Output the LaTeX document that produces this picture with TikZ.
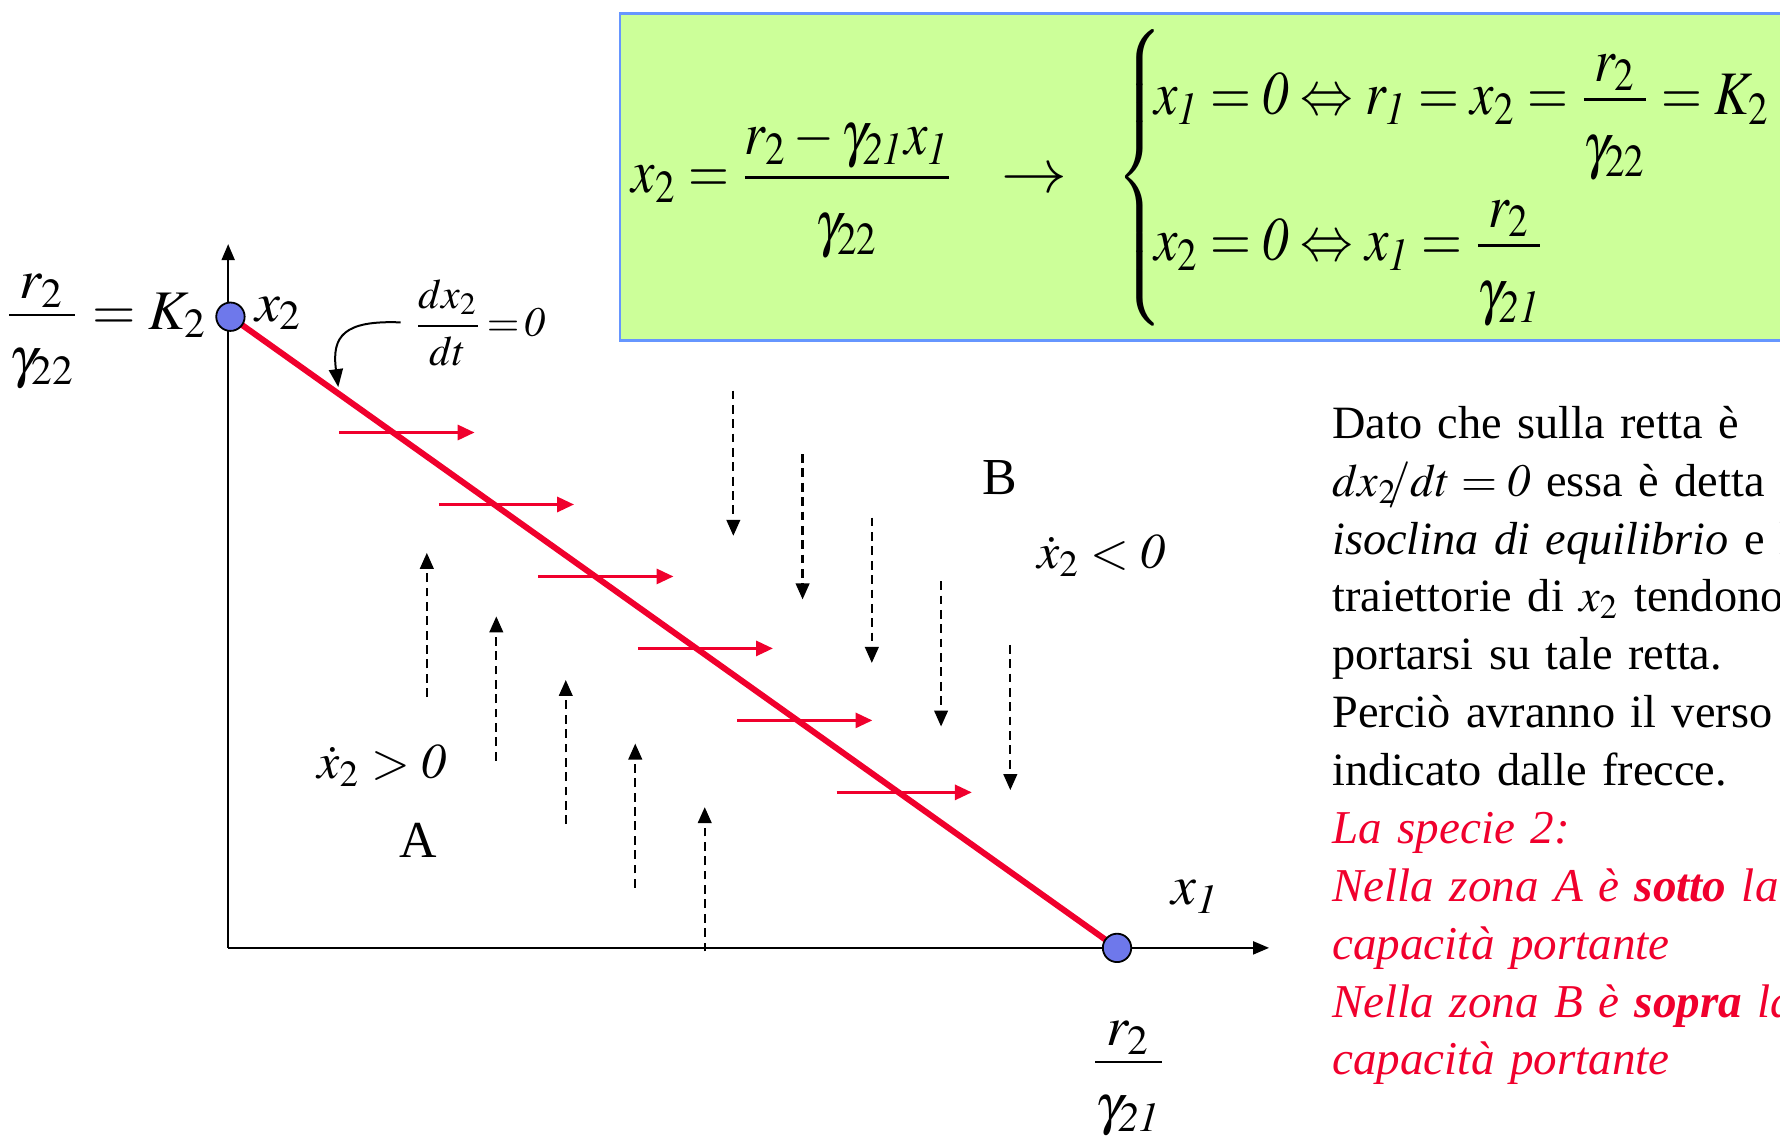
\documentclass[tikz,border=0pt]{standalone}
\usepackage{amsmath}
\usepackage{graphicx}
\usepackage{mathptmx}
\usepackage{fontspec}
\setmainfont{Liberation Serif}
\usetikzlibrary{arrows.meta}
\definecolor{isored}{RGB}{240,0,45}
\definecolor{boxgreen}{RGB}{204,255,153}
\definecolor{boxblue}{RGB}{102,150,255}
\definecolor{eqblue}{RGB}{110,120,235}
\newcommand{\isofrac}[2]{\frac{\raisebox{-0.2em}{$#1$}}{\rule{0pt}{0.95em}#2}}
\begin{document}
\begin{tikzpicture}[x=0.01cm, y=-0.01cm,
  axis/.style={line width=0.6pt, -{Triangle[length=4pt,width=3.2pt]}},
  isoline/.style={isored, line width=1.5pt},
  flowarrow/.style={isored, line width=0.6pt, -{Triangle[length=4.2pt,width=3.8pt]}},
  drift/.style={line width=0.55pt, dash pattern=on 2.2pt off 1.4pt, -{Triangle[length=4pt,width=3.4pt]}},
  eqpt/.style={circle, draw, line width=0.45pt, fill=eqblue, minimum size=0.25cm, inner sep=0pt},
  lbl/.style={inner sep=0pt, font=\fontsize{14}{16}\selectfont}]
\clip (0,0) rectangle (1568,1000);
\fill[boxgreen, draw=boxblue, line width=0.6pt] (546,12) rectangle (1600,300);
\node (iso) [anchor=base west, inner sep=0pt, font=\fontsize{15.5}{18}\selectfont] at (556,170)
  {\scalebox{0.85}[1]{$\displaystyle x_2=\isofrac{r_2-\gamma_{\mathit{21}}x_{\mathit{1}}}{\gamma_{22}}\hspace{11pt}\mathrel{\scalebox{1.25}[1]{$\rightarrow$}}\hspace{11pt}
  \delimiterfactor=1000 \delimitershortfall=0pt
  \left\{\vcenter{\hbox{\rule{0pt}{71pt}}}\right.\hspace{-5.6pt}
  \begin{array}{@{}l@{}}
  \rule{0pt}{21.7pt}x_{\mathit{1}}=\mathit{0}\Leftrightarrow r_{\mathit{1}}=x_2=\displaystyle\isofrac{r_2}{\gamma_{22}}=K_2\\[16pt]
  x_2=\mathit{0}\Leftrightarrow x_{\mathit{1}}=\displaystyle\isofrac{r_2}{\gamma_{\mathit{21}}}
  \end{array}$}};

\coordinate (O) at (201,835);
\coordinate (ytip) at (201,215);
\coordinate (xtip) at (1118,835);
\coordinate (k2) at (203,279);
\coordinate (r2) at (984,835);
\coordinate (isopt) at (298,341);

\draw[axis] (O) -- (ytip);
\draw[axis] (O) -- (xtip);
\foreach \i in {0,...,5}
  \draw[flowarrow] ({299+87.6*\i},{381+63.4*\i}) -- ++(119,0);
\foreach \i in {0,...,4}
  \draw[drift] ({376+61.2*\i},{614+56*\i}) -- ++(0,-127);
\foreach \i in {0,...,4}
  \draw[drift] ({646+61*\i},{344+56*\i}) -- ++(0,128);
\draw[isoline] (k2) -- (r2);
\node (K2) [eqpt] at (k2) {};
\node (R2) [eqpt] at (r2) {};

\node (K2lbl) [lbl, anchor=base east] at (183,290) {$\displaystyle\isofrac{r_2}{\gamma_{22}}=K_2$};
\node (x2lbl) [lbl, anchor=base west] at (224,283) {$x_2$};
\node (x1lbl) [lbl, anchor=base west] at (1031,797) {$x_{\mathit{1}}$};
\node (R2lbl) [lbl, anchor=base] at (994,948) {$\displaystyle\isofrac{r_2}{\gamma_{\mathit{21}}}$};
\node (dxlbl) [anchor=west, inner sep=1pt, font=\fontsize{10.5}{13}\selectfont] at (360,284) {$\displaystyle\frac{dx_2}{dt}\!=\!\mathit{0}$};
\draw[line width=0.5pt, -{Triangle[length=4.5pt,width=3.5pt]}] ([xshift=-2pt]dxlbl.west) .. controls +(-50,-2) and +(-6,-45) .. (isopt);

\node (Blbl) [inner sep=0pt, anchor=base, font=\fontsize{13}{15}\selectfont] at (881,436) {B};
\node (Albl) [inner sep=0pt, anchor=base, font=\fontsize{13}{15}\selectfont] at (368,755) {A};
\node (neg) [inner sep=0pt, anchor=base west, font=\fontsize{12.5}{15}\selectfont] at (913,501) {$\dot{x}_2<\mathit{0}$};
\node (pos) [inner sep=0pt, anchor=base west, font=\fontsize{12.5}{15}\selectfont] at (279,686) {$\dot{x}_2>\mathit{0}$};

\node (note) [anchor=north west, inner sep=0pt, text width=7cm, align=left, font=\fontsize{11.6}{14.5}\selectfont] at (1173,357)
  {Dato che sulla retta è\\
  $dx_2\mkern-4mu/dt=\mathit{0}$ essa è detta\\
  \textit{isoclina di equilibrio} e le\\
  traiettorie di $x_2$ tendono a\\
  portarsi su tale retta.\\
  Perciò avranno il verso\\
  indicato dalle frecce.\\
  \fontsize{11.8}{14.5}\selectfont\color{isored}\itshape La specie 2:\\
  Nella zona A è \textbf{sotto} la\\
  capacità portante\\
  Nella zona B è \textbf{sopra} la\\
  capacità portante};
\end{tikzpicture}
\end{document}
